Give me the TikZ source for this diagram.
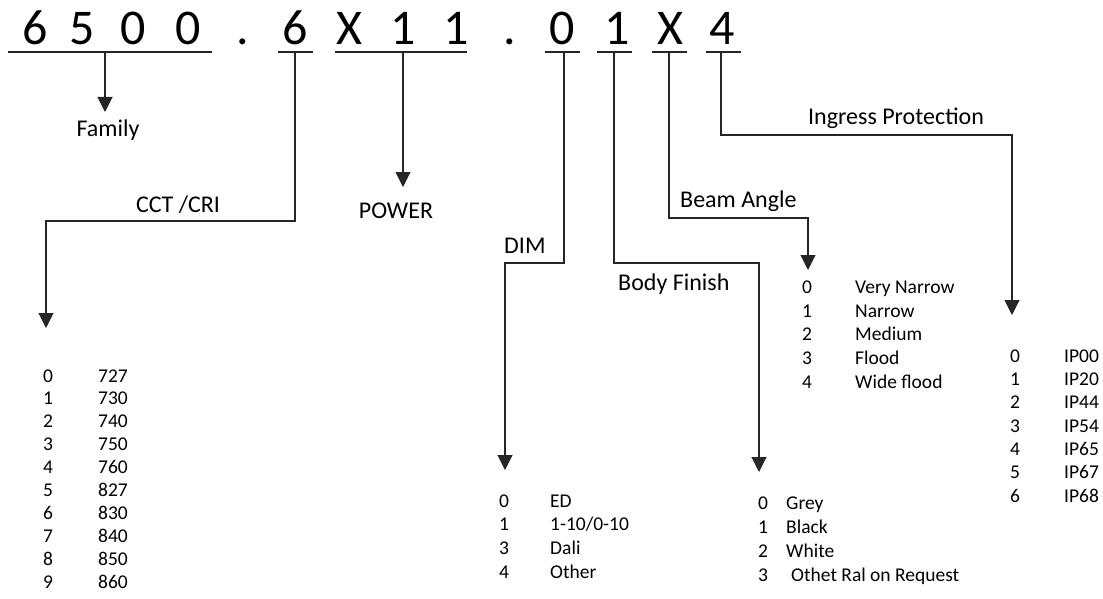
\documentclass[tikz,border=0pt]{standalone}
\usepackage{fontspec}
\setmainfont{Carlito}
\usetikzlibrary{arrows.meta}
\begin{document}
\begin{tikzpicture}[x=1pt,y=-1pt,
  ln/.style={line width=1.1pt, draw=black!85},
  arr/.style={ln,-{Triangle[width=15pt,length=15pt]}},
  big/.style={inner sep=0,anchor=base,font=\fontsize{50}{50}\selectfont},
  lbl/.style={inner sep=0,font=\fontsize{24}{24}\selectfont},
  itm/.style={inner sep=0,anchor=base west,font=\fontsize{19.5}{19.5}\selectfont}]
\useasboundingbox (0,0) rectangle (1103,599);

% code characters
\foreach \c/\x [count=\i] in {6/35,5/82,0/133,0/188,./243,6/295,X/349,1/403,1/456,./510,0/562,1/617,X/670,4/722}
  \node[big] (ch\i) at (\x,45) {\c};

% underlines
\draw[ln] (8,52) -- (212,52);
\draw[ln] (278,52) -- (313,52);
\draw[ln] (335,52) -- (467,52);
\draw[ln] (545,52) -- (580,52);
\draw[ln] (597,52) -- (632,52);
\draw[ln] (652,52) -- (687,52);
\draw[ln] (706,52) -- (741,52);

% anchor coordinates on underlines
\coordinate (uFam) at (105,52);
\coordinate (uCct) at (295,52);
\coordinate (uPow) at (403,52);
\coordinate (uDim) at (564,52);
\coordinate (uBody) at (614,52);
\coordinate (uBeam) at (669,52);
\coordinate (uIp) at (721,52);

% arrow tips
\coordinate (tFam) at (105,112);
\coordinate (tCct) at (46,328);
\coordinate (tPow) at (403,187);
\coordinate (tDim) at (505,470);
\coordinate (tBody) at (759,472);
\coordinate (tBeam) at (808,270);
\coordinate (tIp) at (1012,315);

% labels
\node[lbl,anchor=base] (lFam) at (108,137) {Family};
\node[lbl,anchor=base] (lCct) at (178,212) {CCT /CRI};
\node[lbl,anchor=base] (lPow) at (396,218) {POWER};
\node[lbl,anchor=base west] (lDim) at (504,253) {DIM};
\node[lbl,anchor=base west] (lBody) at (618,290) {Body Finish};
\node[lbl,anchor=base west] (lBeam) at (680,207) {Beam Angle};
\node[lbl,anchor=base] (lIp) at (896,125) {Ingress Protection};

% connectors
\draw[arr] (uFam) -- (tFam);
\draw[arr] (uCct) |- (46,221) -- (tCct);
\draw[arr] (uPow) -- (tPow);
\draw[arr] (uDim) |- (505,263) -- (tDim);
\draw[arr] (uBody) |- (759,263) -- (tBody);
\draw[arr] (uBeam) |- (808,218) -- (tBeam);
\draw[arr] (uIp) |- (1012,135) -- (tIp);

% lists
\foreach \n/\v [count=\k from 0] in {0/727,1/730,2/740,3/750,4/760,5/827,6/830,7/840,8/850,9/860}{
  \node[itm] (cn\k) at (43,382+22.9*\k) {\n};
  \node[itm] (cv\k) at (98,382+22.9*\k) {\v};
}
\node[itm] (dn0) at (499,507) {0}; \node[itm] (dv0) at (550,507) {ED};
\node[itm] (dn1) at (499,530.7) {1}; \node[itm] (dv1) at (550,530.7) {1-10/0-10};
\node[itm] (dn2) at (499,554.4) {3}; \node[itm] (dv2) at (550,554.4) {Dali};
\node[itm] (dn3) at (499,578.1) {4}; \node[itm] (dv3) at (550,578.1) {Other};

\node[itm] (bn0) at (758,509) {0}; \node[itm] (bv0) at (786,509) {Grey};
\node[itm] (bn1) at (758,533) {1}; \node[itm] (bv1) at (786,533) {Black};
\node[itm] (bn2) at (758,557) {2}; \node[itm] (bv2) at (786,557) {White};
\node[itm] (bn3) at (758,581) {3}; \node[itm] (bv3) at (791,581) {Othet Ral on Request};

\foreach \n/\v [count=\k from 0] in {0/Very Narrow,1/Narrow,2/Medium,3/Flood,4/Wide flood}{
  \node[itm] (an\k) at (802,293.3+23.7*\k) {\n};
  \node[itm] (av\k) at (855,293.3+23.7*\k) {\v};
}
\foreach \n/\v [count=\k from 0] in {0/IP00,1/IP20,2/IP44,3/IP54,4/IP65,5/IP67,6/IP68}{
  \node[itm] (in\k) at (1010,362.3+23.3*\k) {\n};
  \node[itm] (iv\k) at (1064,362.3+23.3*\k) {\v};
}
\end{tikzpicture}
\end{document}
